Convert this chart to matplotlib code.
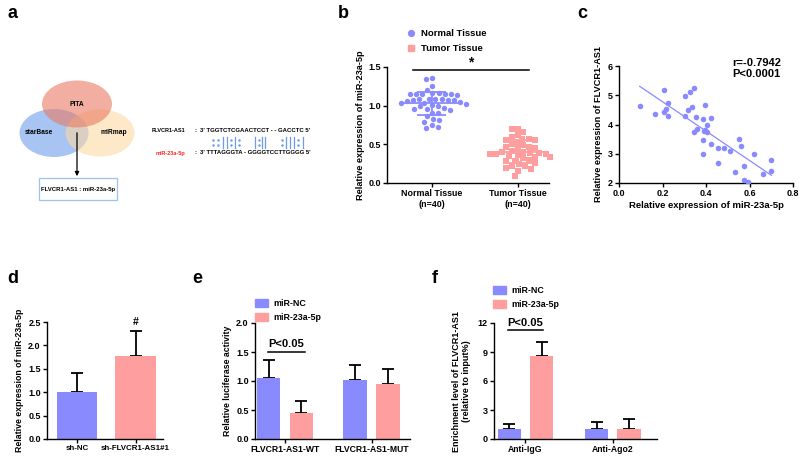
import numpy as np
import matplotlib.pyplot as plt
from matplotlib.patches import Ellipse, Rectangle, Patch
from matplotlib.lines import Line2D

plt.rcParams['font.family'] = ['Liberation Sans', 'DejaVu Sans']
plt.rcParams['font.weight'] = 'bold'
plt.rcParams['axes.labelweight'] = 'bold'
plt.rcParams['axes.linewidth'] = 1.0

# ---- data ----
# b: miR-23a-5p in normal / tumor tissue
normal_vals = [1.36, 1.34, 1.25, 1.20, 1.16, 1.15, 1.15, 1.15, 1.15, 1.15,
               1.16, 1.14, 1.09, 1.08, 1.08, 1.08, 1.07, 1.07, 1.07, 1.06,
               1.05, 1.04, 1.03, 1.02, 1.01, 1.00, 0.99, 0.97, 0.96, 0.96,
               0.95, 0.91, 0.90, 0.86, 0.83, 0.82, 0.79, 0.75, 0.72, 0.71]
tumor_vals = [0.70, 0.70, 0.66, 0.62, 0.60, 0.57, 0.57, 0.56, 0.55, 0.52,
              0.50, 0.49, 0.47, 0.46, 0.45, 0.44, 0.42, 0.40, 0.40, 0.39,
              0.39, 0.38, 0.38, 0.37, 0.36, 0.35, 0.34, 0.33, 0.32, 0.30,
              0.29, 0.28, 0.26, 0.24, 0.22, 0.22, 0.20, 0.18, 0.16, 0.09]
tissue_labels = ['Normal Tissue\n(n=40)', 'Tumor Tissue\n(n=40)']

# c: correlation
mir_x = [0.095, 0.165, 0.206, 0.215, 0.206, 0.226, 0.224, 0.305, 0.326, 0.344,
         0.315, 0.335, 0.305, 0.355, 0.394, 0.385, 0.424, 0.358, 0.347, 0.394,
         0.406, 0.403, 0.386, 0.424, 0.386, 0.455, 0.483, 0.455, 0.512, 0.535,
         0.553, 0.562, 0.573, 0.574, 0.592, 0.621, 0.664, 0.701, 0.701, 0.390]
flv_y = [4.64, 4.36, 5.18, 4.52, 4.44, 4.75, 4.29, 4.99, 5.12, 5.26,
         4.50, 4.59, 4.29, 4.24, 4.65, 4.18, 4.21, 3.83, 3.73, 3.81,
         3.73, 3.98, 3.47, 3.33, 3.00, 3.21, 3.21, 2.67, 3.10, 2.38,
         3.50, 3.28, 2.58, 2.10, 2.05, 3.00, 2.31, 2.79, 2.41, 3.78]

# d: knockdown
d_groups = ['sh-NC', 'sh-FLVCR1-AS1#1']
d_mean = [1.0, 1.78]
d_sd = [0.40, 0.52]

# e: luciferase
e_groups = ['FLVCR1-AS1-WT', 'FLVCR1-AS1-MUT']
e_nc = [1.05, 1.01]
e_nc_sd = [0.32, 0.27]
e_mir = [0.45, 0.95]
e_mir_sd = [0.20, 0.25]

# f: RIP
f_groups = ['Anti-IgG', 'Anti-Ago2']
f_nc = [1.0, 1.0]
f_nc_sd = [0.52, 0.75]
f_mir = [8.55, 1.0]
f_mir_sd = [1.45, 1.05]

BLUE = '#8a8aff'
PINK = '#ff9e9e'
SEQ_BLUE = '#6b9cf0'
W, H = 800, 458
TICK = 6.5

fig = plt.figure(figsize=(8, 4.58), dpi=100)


def px_axes(x0, y0, x1, y1):
    return fig.add_axes([x0 / W, 1 - y1 / H, (x1 - x0) / W, (y1 - y0) / H])


def style(ax):
    ax.spines['top'].set_visible(False)
    ax.spines['right'].set_visible(False)
    ax.tick_params(direction='out', length=3, width=1, labelsize=TICK, pad=1.5)


def swarm(xc, vals, ppu_x, ppu_y, d=6.2):
    # beeswarm: each point goes to the x closest to the centre that does not touch others
    ys = np.asarray(vals) * ppu_y
    order = np.argsort(-ys)
    placed = []
    offs = np.zeros(len(ys))
    for i in order:
        near = [(px, py) for px, py in placed if abs(py - ys[i]) < d]
        cands = [0.0]
        for px, py in near:
            dx = np.sqrt(d ** 2 - (py - ys[i]) ** 2)
            cands += [px - dx, px + dx]
        cands.sort(key=abs)
        for c in cands:
            if all((c - px) ** 2 + (ys[i] - py) ** 2 >= d ** 2 - 1e-6 for px, py in near):
                break
        placed.append((c, ys[i]))
        offs[i] = c
    return xc + offs / ppu_x


# ---- panel a (diagram) ----
ax_a = fig.add_axes([0, 0, 1, 1], zorder=-1)
ax_a.set_xlim(0, W)
ax_a.set_ylim(H, 0)
ax_a.axis('off')
ax_a.add_patch(Ellipse((54, 133), 69, 48, color='#6d9eeb', alpha=0.6, lw=0))
ax_a.add_patch(Ellipse((100, 133), 69, 47, color='#fcd9a4', alpha=0.6, lw=0))
ax_a.add_patch(Ellipse((77, 104), 70, 47, color='#ea7a62', alpha=0.6, lw=0))
ax_a.text(77, 104, 'PITA', fontsize=4.8, ha='center', va='center')
ax_a.text(39, 132, 'starBase', fontsize=4.8, ha='center', va='center')
ax_a.text(114, 132, 'miRmap', fontsize=4.8, ha='center', va='center')
ax_a.annotate('', xy=(77, 179), xytext=(77, 130),
              arrowprops=dict(arrowstyle='-|>', color='k', lw=0.9, mutation_scale=6))
ax_a.add_patch(Rectangle((39, 178), 78, 22, fill=False, ec='#9dc3e6', lw=0.9))
ax_a.text(78, 189, 'FLVCR1-AS1 : miR-23a-5p', fontsize=4.3, ha='center', va='center')
ax_a.text(152, 130, 'FLVCR1-AS1', fontsize=4.0, va='center')
ax_a.text(194, 130, ':', fontsize=4.3, va='center')
ax_a.text(200, 130, "3' TGGTCTCGAACTCCT - - GACCTC 5'", fontsize=4.3, va='center')
ax_a.text(156, 153, 'miR-23a-5p', fontsize=4.0, va='center', color='#ff2020')
ax_a.text(194, 153, ':', fontsize=4.3, va='center')
ax_a.text(200, 153, "3' TTTAGGGTA - GGGGTCCTTGGGG 5'", fontsize=4.3, va='center')
pair_x = [213, 218, 223, 227, 231, 235, 239, 255, 259, 262, 265, 282, 286, 290, 294, 298, 303]
pair_s = ':: ||:|: |:|| :|||:|'.replace(' ', '')
for px_, ch in zip(pair_x, pair_s):
    if ch == '|':
        ax_a.plot([px_, px_], [137, 148], color=SEQ_BLUE, lw=0.9)
    else:
        ax_a.plot([px_, px_], [140, 145], color=SEQ_BLUE, lw=0, marker='.', ms=1.6)

# ---- panel letters ----
for lx, ly, s in [(7, 18, 'a'), (338, 18, 'b'), (577, 18, 'c'),
                  (7, 283, 'd'), (192, 283, 'e'), (432, 283, 'f')]:
    fig.text(lx / W, 1 - ly / H, s, fontsize=13, fontweight='bold', va='baseline')

# ---- panel b ----
bx0, by0, bx1, by1 = 387, 67, 549, 183
ax_b = px_axes(bx0, by0, bx1, by1)
style(ax_b)
b_xlim = (-0.52, 1.36)
ax_b.set_xlim(*b_xlim)
ax_b.set_ylim(0, 1.5)
ax_b.set_yticks([0, 0.5, 1.0, 1.5])
ax_b.set_yticklabels(['0.0', '0.5', '1.0', '1.5'])
ax_b.set_xticks([0, 1])
ax_b.set_xticklabels(tissue_labels, fontsize=6.4)
ax_b.set_ylabel('Relative expression of miR-23a-5p', fontsize=6.6, labelpad=2)
ppu_x = (bx1 - bx0) / (b_xlim[1] - b_xlim[0])
ppu_y = (by1 - by0) / 1.5
for xc, vals, col, mk in [(0, normal_vals, BLUE, 'o'), (1, tumor_vals, PINK, 's')]:
    xs = swarm(xc, vals, ppu_x, ppu_y)
    ax_b.scatter(xs, vals, s=15, marker=mk, color=col, lw=0, zorder=3, clip_on=False)
    m, sd = np.mean(vals), np.std(vals)
    ax_b.hlines(m, xc - 0.34, xc + 0.34, color=col, lw=1.3, zorder=4)
    ax_b.hlines([m - sd, m + sd], xc - 0.17, xc + 0.17, color=col, lw=1.3, zorder=4)
    ax_b.vlines(xc, m - sd, m + sd, color=col, lw=1.3, zorder=4)
ax_b.plot([-0.22, 1.13], [1.46, 1.46], color='k', lw=1.1, clip_on=False)
ax_b.text(0.45, 1.47, '*', fontsize=10, ha='center', va='bottom')
ax_b.legend([Line2D([], [], marker='o', color=BLUE, ls='', ms=4.2),
             Line2D([], [], marker='s', color=PINK, ls='', ms=4.2)],
            ['Normal Tissue', 'Tumor Tissue'], loc='upper left',
            bbox_to_anchor=(405 / W, 1 - 29 / H), bbox_transform=fig.transFigure,
            frameon=False, fontsize=6.8, handletextpad=0.5, labelspacing=0.65,
            borderaxespad=0, borderpad=0, handlelength=1.2)

# ---- panel c ----
ax_c = px_axes(619, 66, 793, 183)
style(ax_c)
ax_c.set_xlim(0, 0.8)
ax_c.set_ylim(2, 6)
ax_c.set_xticks([0, 0.2, 0.4, 0.6, 0.8])
ax_c.set_xticklabels(['0.0', '0.2', '0.4', '0.6', '0.8'])
ax_c.set_yticks([2, 3, 4, 5, 6])
ax_c.scatter(mir_x, flv_y, s=16, color=BLUE, lw=0, zorder=3)
k, b0 = np.polyfit(mir_x, flv_y, 1)
xx = np.array([min(mir_x), max(mir_x)])
ax_c.plot(xx, k * xx + b0, color=BLUE, lw=0.9)
ax_c.set_xlabel('Relative expression of miR-23a-5p', fontsize=6.8, labelpad=2)
ax_c.set_ylabel('Relative expression of FLVCR1-AS1', fontsize=6.6, labelpad=3)
ax_c.text(0.65, 1.065, 'r=-0.7942\nP<0.0001', transform=ax_c.transAxes,
          fontsize=8, va='top', ha='left', linespacing=1.1)

# ---- panel d ----
ax_d = px_axes(47, 322, 163, 439)
style(ax_d)
ax_d.set_xlim(-0.513, 1.47)
ax_d.set_ylim(0, 2.5)
ax_d.set_yticks([0, 0.5, 1.0, 1.5, 2.0, 2.5])
ax_d.set_yticklabels(['0.0', '0.5', '1.0', '1.5', '2.0', '2.5'])
xd = np.arange(len(d_groups))
ax_d.bar(xd, d_mean, width=0.69, color=[BLUE, PINK], zorder=2)
ax_d.errorbar(xd, d_mean, yerr=[np.zeros(2), d_sd], fmt='none', ecolor='k',
              capsize=4, elinewidth=1.3, capthick=1.3, zorder=1)
ax_d.set_xticks(xd)
ax_d.set_xticklabels(d_groups, fontsize=5.7)
ax_d.set_ylabel('Relative expression of miR-23a-5p', fontsize=6.3, labelpad=3)
ax_d.text(1, 2.4, '#', fontsize=7.5, ha='center', va='bottom')


def grouped(ax, nc, nc_sd, mir, mir_sd, off, wid):
    xg = np.arange(len(nc))
    ax.bar(xg - off, nc, width=wid, color=BLUE, zorder=2)
    ax.bar(xg + off, mir, width=wid, color=PINK, zorder=2)
    ax.errorbar(xg - off, nc, yerr=[np.zeros(len(nc)), nc_sd], fmt='none', ecolor='k',
                capsize=4, elinewidth=1.3, capthick=1.3, zorder=1)
    ax.errorbar(xg + off, mir, yerr=[np.zeros(len(mir)), mir_sd], fmt='none', ecolor='k',
                capsize=4, elinewidth=1.3, capthick=1.3, zorder=1)
    return xg


def bar_legend(ax, x, y):
    ax.legend([Patch(color=BLUE), Patch(color=PINK)], ['miR-NC', 'miR-23a-5p'],
              loc='upper left', bbox_to_anchor=(x / W, 1 - y / H),
              bbox_transform=fig.transFigure, frameon=False, fontsize=6.4,
              handlelength=1.5, handleheight=0.9, handletextpad=0.6,
              labelspacing=0.55, borderaxespad=0, borderpad=0)


# ---- panel e ----
ax_e = px_axes(255, 323, 410, 439)
style(ax_e)
ax_e.set_xlim(-0.347, 1.445)
ax_e.set_ylim(0, 2.0)
ax_e.set_yticks([0, 0.5, 1.0, 1.5, 2.0])
ax_e.set_yticklabels(['0.0', '0.5', '1.0', '1.5', '2.0'])
xe = grouped(ax_e, e_nc, e_nc_sd, e_mir, e_mir_sd, 0.19, 0.27)
ax_e.set_xticks(xe)
ax_e.set_xticklabels(e_groups, fontsize=6.2)
ax_e.set_ylabel('Relative luciferase activity', fontsize=6.3, labelpad=3)
ax_e.plot([-0.2, 0.23], [1.5, 1.5], color='k', lw=1.1)
ax_e.text(0.01, 1.56, 'P<0.05', fontsize=8, ha='center', va='bottom')
bar_legend(ax_e, 255, 299)

# ---- panel f ----
ax_f = px_axes(494, 323, 657, 439)
style(ax_f)
ax_f.set_xlim(-0.36, 1.503)
ax_f.set_ylim(0, 12)
ax_f.set_yticks([0, 3, 6, 9, 12])
xf = grouped(ax_f, f_nc, f_nc_sd, f_mir, f_mir_sd, 0.183, 0.263)
ax_f.set_xticks(xf)
ax_f.set_xticklabels(f_groups, fontsize=6.2)
ax_f.set_ylabel('Enrichment level of FLVCR1-AS1\n(relative to input%)', fontsize=6.5,
                labelpad=5, linespacing=1.1)
ax_f.plot([-0.2, 0.2], [11.3, 11.3], color='k', lw=1.1, clip_on=False)
ax_f.text(0, 11.5, 'P<0.05', fontsize=8, ha='center', va='bottom')
bar_legend(ax_f, 493, 286)

fig.savefig('out.png', dpi=100)
